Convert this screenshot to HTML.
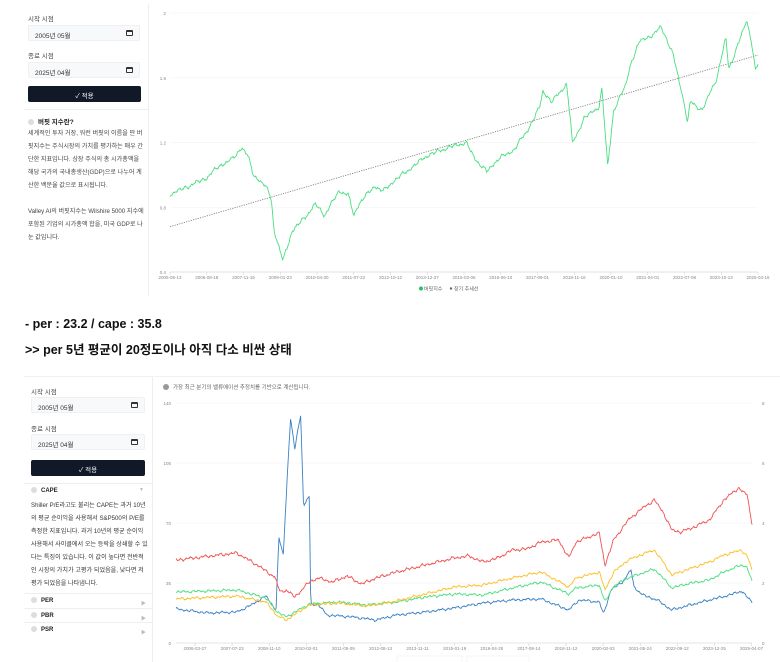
<!DOCTYPE html>
<html><head><meta charset="utf-8">
<style>
*{margin:0;padding:0;box-sizing:border-box}
body{width:780px;height:662px;background:#fff;position:relative;overflow:hidden;font-family:"Liberation Sans","Noto Sans CJK KR",sans-serif;color:#222}
.a{position:absolute}
.lbl{font-size:6.5px;color:#444}
.inp{border:1px solid #eef0f3;background:#f8f9fb;border-radius:2px;font-size:6.5px;color:#333;padding:4px 0 0 6px}
.cal{position:absolute;right:6px;top:4px;width:7px;height:6px;border:1px solid #333;border-top-width:2px;border-radius:1px}
.btn{background:#111827;border-radius:2px;color:#fff;font-size:6.5px;text-align:center;padding-top:4px}
.txt{font-size:6.1px;color:#444;line-height:13px}
.dot{display:inline-block;width:6px;height:6px;border-radius:50%;background:#ddd;vertical-align:-1px;margin-right:4px}
</style></head><body>
<!-- top panel -->
<div class="a" style="left:148px;top:4px;width:1px;height:292px;background:#eee"></div>
<div class="a lbl" style="left:28px;top:13px">시작 시점</div>
<div class="a inp" style="left:28px;top:25px;width:112px;height:16px">2005년 05월<div class="cal"></div></div>
<div class="a lbl" style="left:28px;top:50px">종료 시점</div>
<div class="a inp" style="left:28px;top:62px;width:112px;height:16px">2025년 04월<div class="cal"></div></div>
<div class="a btn" style="left:28px;top:86px;width:113px;height:16px">✓ 적용</div>
<div class="a" style="left:24px;top:109px;width:124px;height:1px;background:#eee"></div>
<div class="a" style="left:28px;top:116px;font-size:6.5px;font-weight:bold"><span class="dot"></span>버핏 지수란?</div>
<div class="a txt" style="left:28px;top:127px;width:116px">세계적인 투자 거장, 워런 버핏의 이름을 딴 버핏지수는 주식시장의 가치를 평가하는 매우 간단한 지표입니다. 상장 주식의 총 시가총액을 해당 국가의 국내총생산(GDP)으로 나누어 계산한 백분율 값으로 표시됩니다.<br><br>Valley AI의 버핏지수는 Wilshire 5000 지수에 포함된 기업의 시가총액 합을, 미국 GDP로 나눈 값입니다.</div>
<div class="a" style="left:25px;top:317px;font-size:12.5px;font-weight:bold;color:#111">- per : 23.2 / cape : 35.8</div>
<div class="a" style="left:25px;top:339px;font-size:12.5px;font-weight:bold;color:#111">&gt;&gt; per 5년 평균이 20정도이나 아직 다소 비싼 상태</div>
<!-- bottom panel -->
<div class="a" style="left:24px;top:376px;width:756px;height:1px;background:#f2f2f2"></div>
<div class="a" style="left:152px;top:377px;width:1px;height:285px;background:#eee"></div>
<div class="a lbl" style="left:31px;top:386px">시작 시점</div>
<div class="a inp" style="left:31px;top:397px;width:114px;height:16px">2005년 05월<div class="cal"></div></div>
<div class="a lbl" style="left:31px;top:423px">종료 시점</div>
<div class="a inp" style="left:31px;top:434px;width:114px;height:16px">2025년 04월<div class="cal"></div></div>
<div class="a btn" style="left:31px;top:460px;width:114px;height:16px">✓ 적용</div>
<div class="a" style="left:24px;top:483px;width:128px;height:1px;background:#eee"></div>
<div class="a" style="left:31px;top:487px;font-size:6px;font-weight:bold"><span class="dot"></span>CAPE</div>
<div class="a" style="left:139px;top:487px;font-size:5px;color:#bbb">▼</div>
<div class="a txt" style="left:31px;top:499px;width:118px;color:#333">Shiller P/E라고도 불리는 CAPE는 과거 10년의 평균 순이익을 사용해서 S&amp;P500의 P/E를 측정한 지표입니다. 과거 10년의 평균 순이익 사용해서 사이클에서 오는 등락을 상쇄할 수 있다는 특징이 있습니다. 이 값이 높다면 전반적인 시장의 가치가 고평가 되었음을, 낮다면 저평가 되었음을 나타냅니다.</div>
<div class="a" style="left:24px;top:593px;width:128px;height:1px;background:#eee"></div>
<div class="a" style="left:31px;top:597px;font-size:6px;font-weight:bold"><span class="dot"></span>PER</div>
<div class="a" style="left:24px;top:608px;width:128px;height:1px;background:#eee"></div>
<div class="a" style="left:31px;top:612px;font-size:6px;font-weight:bold"><span class="dot"></span>PBR</div>
<div class="a" style="left:24px;top:622px;width:128px;height:1px;background:#eee"></div>
<div class="a" style="left:31px;top:626px;font-size:6px;font-weight:bold"><span class="dot"></span>PSR</div>
<div class="a" style="left:141px;top:597px;font-size:5px;color:#bbb;line-height:14.5px">▶<br>▶<br>▶</div>
<div class="a" style="left:163px;top:383px;font-size:5.5px;color:#666"><span class="dot" style="width:6px;height:6px;background:#999"></span>가장 최근 분기의 밸류에이션 추정치를 기반으로 계산됩니다.</div>

<svg id="s" class="a" style="left:0;top:0" width="780" height="662" font-family="Liberation Sans, Noto Sans CJK KR, sans-serif"></svg>
<script>
const S=document.getElementById('s');let h='';
function T(x,y,t,a,sz,c){h+=`<text x="${x}" y="${y}" font-size="${sz||5}" fill="${c||'#888'}" text-anchor="${a||'middle'}">${t}</text>`}
function L(x1,y1,x2,y2,c,w,d){h+=`<line x1="${x1}" y1="${y1}" x2="${x2}" y2="${y2}" stroke="${c}" stroke-width="${w||0.6}" ${d?'stroke-dasharray="'+d+'"':''}/>`}
function noise(i,s){return Math.sin(i*0.9+s)*0.5+Math.sin(i*2.3+s*2)*0.3+Math.sin(i*5.7+s*3)*0.25+Math.sin(i*0.31+s)*0.4}
function series(kp,t0,t1,x0,x1,ymap,amp,seed,col,n){
 let pts=[];for(let i=0;i<=n;i++){const t=t0+(t1-t0)*i/n;let k=0;while(k<kp.length-2&&kp[k+1][0]<t)k++;
 const a=kp[k],b=kp[k+1];let f=(t-a[0])/(b[0]-a[0]);f=Math.max(0,Math.min(1,f));let v=a[1]+(b[1]-a[1])*f;
 let y=ymap(v)+noise(i,seed)*amp;pts.push((x0+(x1-x0)*i/n).toFixed(1)+','+y.toFixed(1));}
 h+=`<polyline points="${pts.join(' ')}" fill="none" stroke="${col}" stroke-width="0.9"/>`;}
const tx0=170,tx1=758,ty=v=>13+(2-v)/1.6*259;
[2,1.6,1.2,0.8,0.4].forEach(v=>{const y=ty(v);L(tx0,y,tx1,y,'#f0f0f0',0.6);T(166,y+2,v,'end',4.5)});
L(tx0,272,tx1,272,'#ccc',0.6);
const td=['2005-05-13','2006-08-18','2007-11-16','2009-01-23','2010-04-30','2011-07-22','2012-10-12','2013-12-27','2015-03-06','2016-06-10','2017-09-01','2018-11-16','2020-01-10','2021-04-01','2022-07-08','2023-10-13','2025-04-16'];
td.forEach((d,i)=>{const x=tx0+i*(tx1-tx0)/16;L(x,272,x,275,'#ccc',0.5);T(x,279,d,'middle',4.5)});
L(tx0,ty(0.68),tx1,ty(1.74),'#777',0.8,'1.2,1.2');
const gk=[[2005.37,0.88],[2006,0.93],[2006.6,0.98],[2007,1.05],[2007.5,1.1],[2007.8,1.17],[2008,1.12],[2008.2,1.0],[2008.6,0.93],[2008.8,0.86],[2008.9,0.65],[2009.2,0.47],[2009.5,0.65],[2010,0.75],[2010.3,0.82],[2010.6,0.75],[2011.1,0.9],[2011.4,0.88],[2011.6,0.75],[2011.8,0.83],[2012.3,0.93],[2012.6,0.9],[2013,0.97],[2013.6,1.05],[2014,1.11],[2014.5,1.15],[2015,1.18],[2015.4,1.2],[2015.7,1.1],[2016.1,1.02],[2016.5,1.1],[2017,1.15],[2017.5,1.28],[2017.9,1.42],[2018,1.52],[2018.3,1.45],[2018.8,1.56],[2018.95,1.32],[2019.0,1.19],[2019.4,1.35],[2019.9,1.42],[2020.0,1.53],[2020.2,1.05],[2020.4,1.4],[2020.8,1.55],[2021,1.7],[2021.3,1.83],[2021.8,1.87],[2022,1.92],[2022.4,1.75],[2022.7,1.52],[2022.9,1.33],[2023,1.45],[2023.4,1.4],[2023.9,1.6],[2024.2,1.85],[2024.3,1.65],[2024.6,1.8],[2024.9,1.95],[2025.05,1.85],[2025.2,1.65],[2025.29,1.68]];
series(gk,2005.37,2025.29,tx0,tx1,ty,2.2,1,'#4ade80',700);
h+=`<circle cx="421" cy="288.5" r="2" fill="#22c55e"/>`;T(424,290.5,'버핏지수','start',5,'#666');
h+=`<circle cx="451" cy="288.5" r="1.2" fill="#666"/>`;T(454,290.5,'장기 추세선','start',5,'#666');
const bx0=176,bx1=752;
[[140,8],[105,6],[70,4],[35,2],[0,0]].forEach(([v,r],i)=>{const y=403+i*60;if(i<4)L(bx0,y,bx1,y,'#f0f0f0',0.6);T(171,y+2,v,'end',4.5);T(762,y+2,r,'start',4.5)});
L(bx0,643,bx1,643,'#ccc',0.6);
const bd=['2006-03-27','2007-07-23','2008-11-10','2010-02-01','2011-05-09','2012-08-13','2013-11-11','2015-01-19','2016-04-25','2017-08-14','2018-11-12','2020-02-03','2021-05-24','2022-09-12','2023-12-25','2025-04-07'];
bd.forEach((d,i)=>{const x=195+i*37.1;L(x,643,x,646,'#ccc',0.5);T(x,650,d,'middle',4.5)});
const id=y=>y;
const R=[[2005.4,560],[2007.5,553],[2008.2,565],[2008.8,577],[2009.0,592],[2009.2,590],[2009.5,597],[2010,582],[2010.3,578],[2010.8,582],[2011.3,576],[2011.8,584],[2012.3,578],[2013,572],[2014,565],[2015,558],[2015.5,556],[2016,562],[2016.5,558],[2017,550],[2017.5,549],[2018,542],[2018.6,540],[2018.95,558],[2019.2,542],[2020,533],[2020.2,565],[2020.5,540],[2021,520],[2021.5,508],[2021.9,500],[2022.2,512],[2022.5,530],[2022.8,532],[2023.2,528],[2023.8,520],[2024.3,500],[2024.8,488],[2025.1,495],[2025.27,523]];
const G=[[2005.4,592],[2007.5,590],[2008.5,598],[2008.9,612],[2009.2,617],[2010,604],[2011,602],[2012,605],[2013,602],[2014,597],[2015,594],[2016,595],[2017,588],[2018,582],[2018.95,594],[2019.2,588],[2020,585],[2020.2,602],[2020.5,586],[2021,578],[2021.6,572],[2021.9,569],[2022.2,578],[2022.5,588],[2023,584],[2023.8,580],[2024.3,572],[2024.9,565],[2025.1,567],[2025.27,582]];
const O=[[2005.4,599],[2007.5,596],[2008.5,602],[2008.9,616],[2009.2,620],[2010,605],[2011,603],[2012,606],[2013,601],[2014,594],[2015,587],[2016,585],[2017,578],[2018,572],[2018.95,587],[2019.2,578],[2020,572],[2020.2,590],[2020.5,572],[2021,560],[2021.6,553],[2021.9,550],[2022.2,562],[2022.5,575],[2023,570],[2023.8,562],[2024.3,555],[2024.9,550],[2025.1,556],[2025.27,570]];
const B=[[2005.4,609],[2006.5,613],[2007.5,612],[2008,605],[2008.5,596],[2008.85,610],[2008.95,538],[2009.1,555],[2009.25,470],[2009.35,418],[2009.5,450],[2009.6,430],[2009.7,415],[2009.8,505],[2010,497],[2010.05,605],[2010.3,604],[2010.6,615],[2011.5,617],[2012.3,620],[2013,615],[2014,612],[2015,608],[2016,603],[2017,600],[2018,599],[2018.95,610],[2019.3,600],[2020,602],[2020.15,614],[2020.4,590],[2020.8,582],[2021.1,570],[2021.2,587],[2021.5,595],[2022,600],[2022.5,610],[2023,606],[2023.8,600],[2024.5,595],[2024.9,591],[2025.27,602]];
series(B,2005.4,2025.27,bx0,bx1,id,1.3,4,'#3b82c4',800);
series(G,2005.4,2025.27,bx0,bx1,id,1.3,2,'#4ade80',800);
series(O,2005.4,2025.27,bx0,bx1,id,1.3,3,'#fbbf24',800);
series(R,2005.4,2025.27,bx0,bx1,id,1.6,5,'#f05252',800);
h+=`<rect x="397" y="656" width="65" height="10" fill="#fff" stroke="#eee" stroke-width="0.6"/><rect x="467" y="656" width="62" height="10" fill="#fff" stroke="#eee" stroke-width="0.6"/>`;
S.innerHTML=h;
</script>
</body></html>
